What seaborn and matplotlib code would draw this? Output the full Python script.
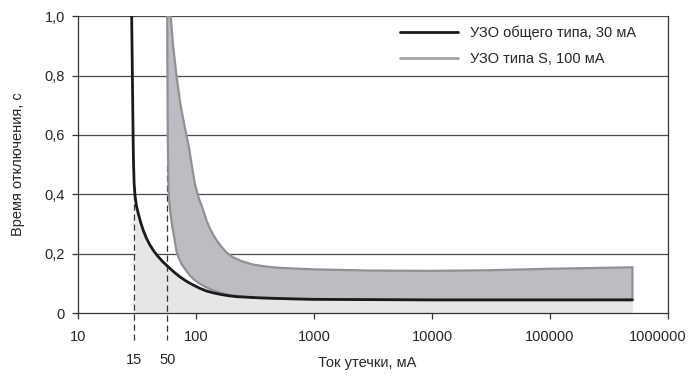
import numpy as np
import pandas as pd
import matplotlib
matplotlib.use("Agg")
import matplotlib.pyplot as plt
import matplotlib.transforms as mtransforms
import seaborn as sns

# general type RCD, 30 mA (x - leakage current, y - trip time)
rcd30_x = [28.5, 28.7, 28.9, 29.1, 29.3, 29.5, 29.9, 30.4, 31.3, 32.4, 34, 35.7, 38, 40.7, 44, 47.8,
           52.5, 58, 65, 73, 83, 95, 108, 123, 140, 160, 190, 221, 280, 346, 600, 1000, 10000, 100000, 500000]
rcd30_y = [1.0, 0.9, 0.8, 0.7, 0.6, 0.52, 0.437, 0.397, 0.36, 0.336, 0.305, 0.279, 0.252, 0.229, 0.208, 0.19,
           0.172, 0.156, 0.138, 0.122, 0.107, 0.094, 0.083, 0.074, 0.068, 0.063, 0.058, 0.055, 0.053, 0.051, 0.048, 0.046, 0.044, 0.044, 0.044]

# type S RCD, 100 mA - lower and upper limit of the band
rcdS_low_x = [57, 57.3, 57.6, 58.5, 59.5, 61, 63, 65, 68, 71, 75, 81, 88, 96, 106, 120, 138, 162, 192, 240, 300, 450, 750, 2000, 10000, 100000, 500000]
rcdS_low_y = [1.0, 0.8, 0.6, 0.42, 0.37, 0.33, 0.29, 0.26, 0.212, 0.188, 0.167, 0.147, 0.128, 0.113, 0.10, 0.088, 0.077, 0.068, 0.061, 0.056, 0.052, 0.049, 0.047, 0.046, 0.045, 0.045, 0.046]
rcdS_up_x = [61, 64, 68.5, 74, 80, 87, 92, 97.6, 105, 115, 122, 131, 145, 160, 180, 207, 250, 306, 400, 515, 1000, 3000, 10000, 30000, 100000, 500000]
rcdS_up_y = [1.0, 0.9, 0.796, 0.70, 0.63, 0.56, 0.50, 0.437, 0.39, 0.347, 0.315, 0.285, 0.253, 0.229, 0.205, 0.187, 0.173, 0.163, 0.156, 0.152, 0.147, 0.143, 0.142, 0.144, 0.149, 0.154]

marker_x = [30, 57]
marker_labels = ["15", "50"]
marker_top = [0.40, 0.50]

x_ticks = [10, 100, 1000, 10000, 100000, 1000000]
y_ticks = [0, 0.2, 0.4, 0.6, 0.8, 1.0]
y_ticklabels = ["0", "0,2", "0,4", "0,6", "0,8", "1,0"]

sns.set_style("white")
plt.rcParams["font.family"] = ["Liberation Sans", "DejaVu Sans"]
fs = 10.5

df30 = pd.DataFrame({"x": rcd30_x, "y": rcd30_y})

fig = plt.figure(figsize=(6.89, 3.85), dpi=100)
ax = fig.add_axes([0.1132, 0.187, 0.8563, 0.771])
ax.set_xscale("log")

# light fill under the 30 mA curve
ax.fill_between(df30["x"], 0, df30["y"], where=df30["x"] >= 30, color="#e5e6e8", lw=0, zorder=1)

# horizontal grid
for yv in y_ticks[1:]:
    ax.axhline(yv, color="#4a4a4a", lw=0.9, zorder=0.5)

# dashed markers going below the axis
for xv, top in zip(marker_x, marker_top):
    ax.plot([xv, xv], [top, -0.09], color="#333333", lw=0.9, ls=(0, (5, 3)), clip_on=False, zorder=1.5)

# type S band
band_x = rcdS_low_x + rcdS_up_x[::-1]
band_y = rcdS_low_y + rcdS_up_y[::-1]
ax.fill(band_x, band_y, facecolor="#bcbdc1", edgecolor="#909196", lw=1.6, zorder=2)

sns.lineplot(data=df30, x="x", y="y", color="#1a1a1a", lw=2, ax=ax, zorder=3, sort=False)

ax.set_xlim(10, 1000000)
ax.set_ylim(0, 1.0)
ax.set_xticks(x_ticks, labels=[str(v) for v in x_ticks])
ax.set_xticks(marker_x, labels=marker_labels, minor=True)
ax.set_yticks(y_ticks, labels=y_ticklabels)
ax.tick_params(axis="x", which="major", direction="out", length=4, width=0.9, color="#333333", labelsize=fs, pad=8, bottom=True)
ax.tick_params(axis="x", which="minor", length=0, labelsize=fs, pad=29, bottom=True)
ax.tick_params(axis="y", direction="out", length=4.5, width=0.9, color="#333333", labelsize=fs, pad=5, left=True)

# last label sits a little to the left so it stays inside the picture
last = ax.get_xticklabels()[-1]
last.set_transform(last.get_transform() + mtransforms.ScaledTranslation(-10 / 100, 0, fig.dpi_scale_trans))

for s in ["left", "bottom", "right"]:
    ax.spines[s].set_visible(True)
    ax.spines[s].set_color("#333333")
    ax.spines[s].set_linewidth(0.9)
ax.spines["top"].set_visible(False)

ax.set_xlabel("Ток утечки, мА", fontsize=fs)
ax.xaxis.set_label_coords(0.49, -0.145)
ax.xaxis.label.set_va("top")
ax.set_ylabel("Время отключения, с", fontsize=fs)
ax.yaxis.set_label_coords(-0.09, 0.5)

h1 = plt.Line2D([], [], color="#1a1a1a", lw=2)
h2 = plt.Line2D([], [], color="#a3a3a5", lw=2)
ax.legend([h1, h2], ["УЗО общего типа, 30 мА", "УЗО типа S, 100 мА"],
          loc="upper left", bbox_to_anchor=(0.546, 0.968), frameon=False,
          borderaxespad=0, borderpad=0,
          fontsize=fs, handlelength=4.0, handletextpad=0.8, labelspacing=0.8)

fig.savefig("out.png", dpi=100)
